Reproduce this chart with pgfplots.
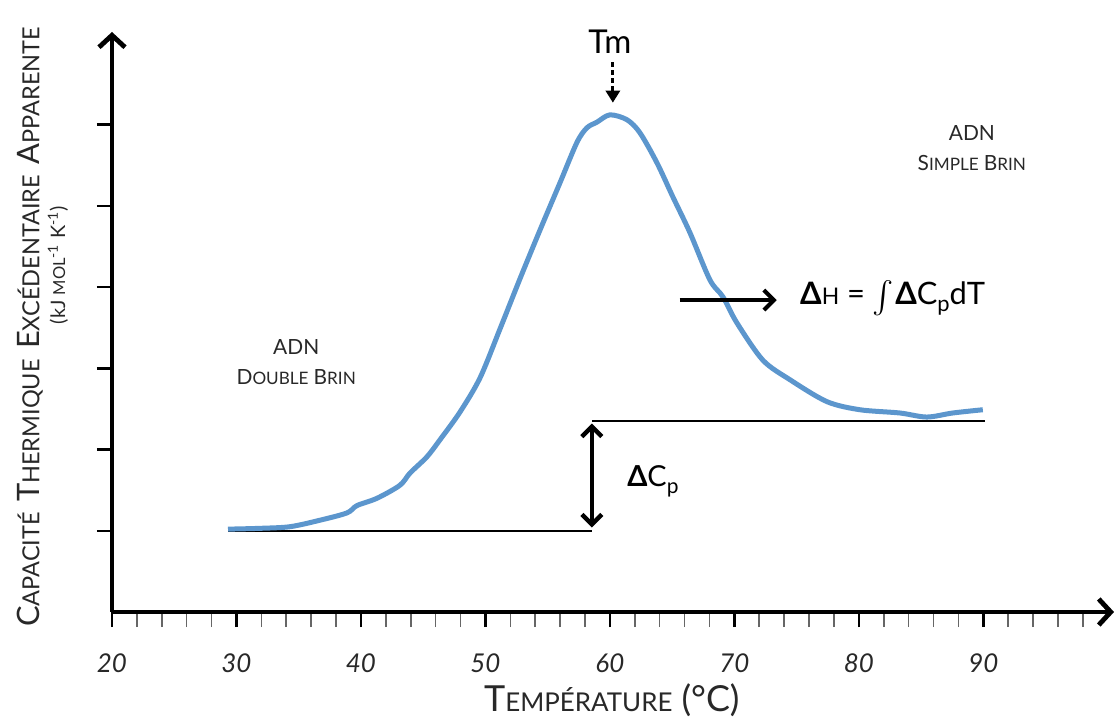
\documentclass[border=0pt]{standalone}
\usepackage{graphicx}
\usepackage{fontspec}
\setmainfont{Lato}
\usepackage{pgfplots}
\pgfplotsset{compat=1.18}
\usetikzlibrary{arrows.meta}
\definecolor{curveblue}{RGB}{92,150,205}
\definecolor{txt}{RGB}{40,40,40}
\newcommand\fs[2]{{\fontsize{#1}{#1}\selectfont #2}}

\pgfplotstableread{
T v
29.32 1.02
31.89 1.03
34.30 1.05
36.71 1.13
38.88 1.22
39.68 1.31
41.29 1.40
43.13 1.56
43.94 1.71
45.30 1.91
46.35 2.12
47.95 2.46
49.56 2.88
51.16 3.48
52.77 4.10
54.38 4.70
55.98 5.28
57.35 5.78
58.15 5.96
58.96 6.03
60.00 6.12
61.37 6.06
62.41 5.90
63.78 5.53
65.06 5.11
66.43 4.67
68.03 4.09
69.08 3.88
70.20 3.56
72.29 3.10
74.46 2.86
77.43 2.59
80.08 2.49
83.29 2.45
85.46 2.40
87.55 2.45
89.96 2.49
}\curve

\begin{document}
\begin{tikzpicture}
\begin{axis}[
  scale only axis,
  width=501bp, height=290bp,
  xmin=20, xmax=100.5, ymin=0, ymax=7.14,
  axis x line=bottom, axis y line=left,
  x axis line style={line width=2.4bp, -{Straight Barb[length=6bp,width=13bp,line width=2.4bp]}},
  y axis line style={line width=2.4bp, -{Straight Barb[length=6bp,width=13bp,line width=2.4bp]}},
  clip=false,
  xtick={20,30,...,90},
  minor xtick={22,24,...,98},
  ytick={1,...,6}, yticklabels={},
  tick align=outside,
  major tick length=7.5bp, minor tick length=7.5bp,
  major tick style={black, line width=1.2bp},
  minor tick style={black!60, line width=0.8bp},
  /pgf/number format/assume math mode=true,
  xticklabel style={font=\fontsize{13}{13}\selectfont\itshape, text=txt, anchor=center, yshift=-18bp},
]
\addplot[black, line width=0.8bp] coordinates {(29.3,1.0) (58.55,1.0)};
\addplot[black, line width=0.8bp] coordinates {(58.55,2.35) (90.1,2.35)};
\addplot[curveblue, line width=2.5bp, smooth, tension=0.5] table[x=T, y=v] {\curve};

\draw[line width=2.2bp, {Straight Barb[length=5bp,width=10bp]}-{Straight Barb[length=5bp,width=10bp]}] (axis cs:58.55,1.04) -- (axis cs:58.55,2.32);
\draw[line width=2bp, -{Straight Barb[length=5bp,width=10bp]}] (axis cs:65.6,3.84) -- (axis cs:73.4,3.84);
\draw[line width=1.5bp, dash pattern=on 2.5bp off 1.5bp, -{Triangle[length=6bp,width=7bp]}] (axis cs:60.24,6.77) -- (axis cs:60.24,6.27);

\node[text=black, font=\fontsize{16.5}{16.5}\selectfont] at (axis cs:60.0,7.02) {Tm};
\node[text=black, anchor=base west, inner sep=0pt] at (axis cs:75.26,3.78) {\fs{15.5}{{\bfseries Δ}\fs{11.5}{H} = \raisebox{-2.5bp}{\scalebox{1.6}{$\int$}}\kern0.5pt{\bfseries Δ}C\raisebox{-3.5bp}{\fs{11}{p}}dT}};
\node[text=black, anchor=base west, inner sep=0pt] at (axis cs:61.37,1.54) {\fs{14.5}{{\bfseries Δ}C\raisebox{-3.5bp}{\fs{10.5}{p}}}};

\node[text=txt, anchor=base, inner sep=0pt] at (axis cs:34.8,3.165) {\fs{10.5}{ADN}};
\node[text=txt, anchor=base, inner sep=0pt] at (axis cs:34.8,2.80) {\fs{10.5}{D}\fs{8.6}{OUBLE} \fs{10.5}{B}\fs{8.6}{RIN}};
\node[text=txt, anchor=base, inner sep=0pt] at (axis cs:89.08,5.81) {\fs{10.5}{ADN}};
\node[text=txt, anchor=base, inner sep=0pt] at (axis cs:89.08,5.44) {\fs{10.5}{S}\fs{8.6}{IMPLE} \fs{10.5}{B}\fs{8.6}{RIN}};

\node[text=txt, rotate=90, inner sep=0pt] at (axis cs:13.41,3.51) {\fs{15.5}{C}\fs{11.8}{APACITÉ}\ \ \fs{15.5}{T}\fs{11.8}{HERMIQUE}\ \ \fs{15.5}{E}\fs{11.8}{XCÉDENTAIRE}\ \ \fs{15.5}{A}\fs{11.8}{PPARENTE}};
\node[text=txt, rotate=90, inner sep=0pt] at (axis cs:15.66,4.27) {\fs{10}{(kJ \fs{8.3}{MOL}\textsuperscript{-1} K\textsuperscript{-1})}};
\node[text=txt, inner sep=0pt] at (axis cs:60.16,-1.08) {\fs{18}{T}\fs{13}{EMPÉRATURE}\fs{18}{ (°C)}};
\end{axis}
\pgfresetboundingbox
\path[use as bounding box] ([xshift=-56bp,yshift=-55bp]current axis.south west) rectangle ([yshift=16bp]current axis.north east);
\end{tikzpicture}
\end{document}
